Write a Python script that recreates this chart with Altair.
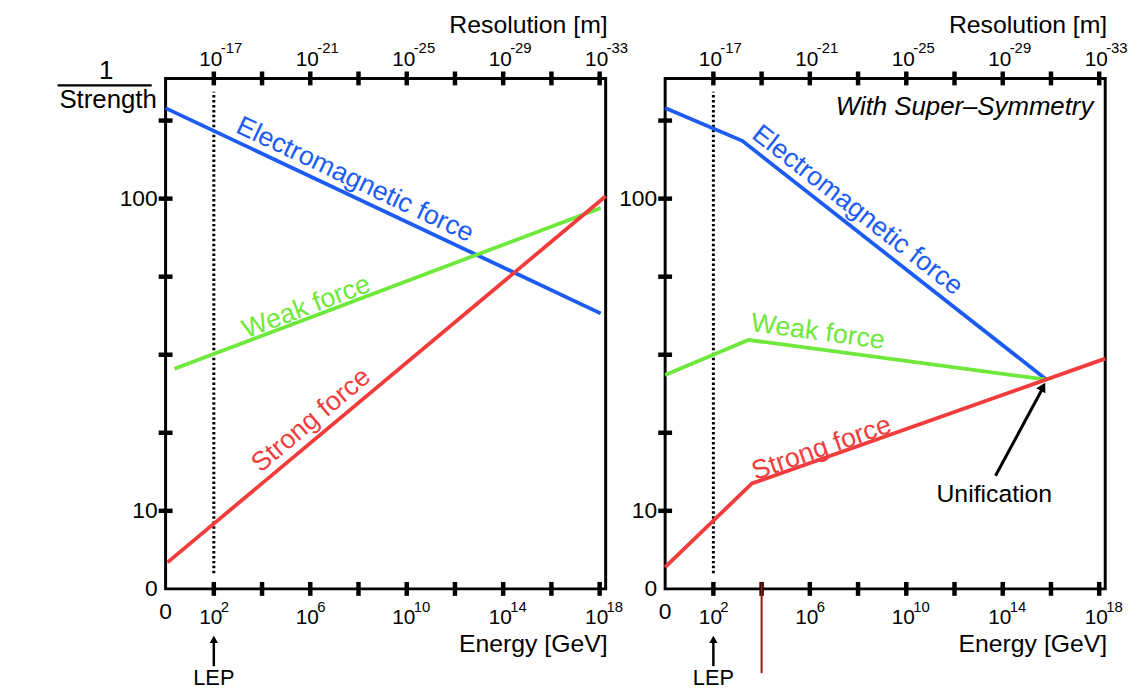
import altair as alt
import pandas as pd

# ---------------- data ----------------
# x: log10(Energy / GeV), y: schematic "1/Strength" axis units (one unit per tick)
energy_tick_pos = [2, 4, 6, 8, 10, 12, 14, 16, 18]
label_pos = [2, 6, 10, 14, 18]
energy_exps = ["2", "6", "10", "14", "18"]
resolution_exps = ["-17", "-21", "-25", "-29", "-33"]
strength_tick_pos = [1, 2, 3, 4, 5, 6]
strength_label_pos = [0, 1, 5]
strength_labels = ["0", "10", "100"]

forces = ["Electromagnetic force", "Weak force", "Strong force"]
colors = ["#1c5cf2", "#6ee83a", "#f23c3c"]

# Standard Model panel
sm_em_x = [0.0, 18.04]
sm_em_y = [6.16, 3.53]
sm_weak_x = [0.37, 18.04]
sm_weak_y = [2.82, 4.88]
sm_strong_x = [0.08, 18.25]
sm_strong_y = [0.34, 5.03]

# Super-Symmetry panel
susy_em_x = [0.0, 3.2, 15.82]
susy_em_y = [6.16, 5.74, 2.68]
susy_weak_x = [0.0, 3.45, 15.82]
susy_weak_y = [2.74, 3.19, 2.68]
susy_strong_x = [0.0, 3.6, 18.25]
susy_strong_y = [0.28, 1.35, 2.95]

# line label anchors (x, y, angle)
sm_label_x = [7.85, 5.84, 6.04]
sm_label_y = [5.24, 3.61, 2.16]
sm_label_angle = [25.3, 339.2, 320.0]
susy_label_x = [7.97, 6.33, 6.49]
susy_label_y = [4.85, 3.29, 1.80]
susy_label_angle = [37.9, 7.6, 340.5]

lep_x = 2
unif_x, unif_y = 15.82, 2.68
unif_text_x, unif_text_y = 13.65, 1.22
marker_x = 4

W, H = 444, 515
XS = alt.Scale(domain=[0, 18.25], nice=False, zero=False)
YS = alt.Scale(domain=[0, 6.54], nice=False, zero=False)
FONT = "Liberation Sans"


def lines_df(xs_list, ys_list):
    rows = []
    for f, xs, ys in zip(forces, xs_list, ys_list):
        for i, (x, y) in enumerate(zip(xs, ys)):
            rows.append({"force": f, "x": x, "y": y, "i": i})
    return pd.DataFrame(rows)


def panel(line_data, lab_x, lab_y, lab_ang, susy):
    X = lambda f="x": alt.X(f, type="quantitative", scale=XS, axis=None)
    Y = lambda f="y": alt.Y(f, type="quantitative", scale=YS, axis=None)
    cscale = alt.Scale(domain=forces, range=colors)

    lines = alt.Chart(line_data).mark_line(strokeWidth=3.8).encode(
        x=X(), y=Y(), order="i:Q",
        color=alt.Color("force:N", scale=cscale, legend=None),
    )
    lab_df = pd.DataFrame({"force": forces, "x": lab_x, "y": lab_y, "a": lab_ang})
    labels = []
    for _, r in lab_df.iterrows():
        labels.append(
            alt.Chart(pd.DataFrame([r])).mark_text(
                font=FONT, fontSize=27, angle=float(r["a"]), align="center", baseline="middle"
            ).encode(x=X(), y=Y(), text="force:N",
                     color=alt.Color("force:N", scale=cscale, legend=None))
        )

    lep = alt.Chart(pd.DataFrame({"x": [lep_x], "y": [0.2], "y2": [6.37]})).mark_rule(
        strokeDash=[2.5, 2.5], strokeWidth=3, color="black"
    ).encode(x=X(), y=Y(), y2="y2:Q")

    tdf = pd.DataFrame({"x": energy_tick_pos})
    tb = alt.Chart(tdf).mark_rule(strokeWidth=4.5, color="black").encode(
        x=X(), y=alt.value(H - 7), y2=alt.value(H + 7))
    tt = alt.Chart(tdf).mark_rule(strokeWidth=4.5, color="black").encode(
        x=X(), y=alt.value(-7), y2=alt.value(7))
    tl = alt.Chart(pd.DataFrame({"y": strength_tick_pos})).mark_rule(
        strokeWidth=4.5, color="black").encode(
        y=Y(), x=alt.value(-7), x2=alt.value(7))

    ldf = pd.DataFrame({"x": label_pos, "e": energy_exps, "r": resolution_exps, "b": ["10"] * 5})
    bot_base = alt.Chart(ldf).mark_text(font=FONT, fontSize=21, align="center", baseline="middle", dx=-3).encode(
        x=X(), y=alt.value(H + 29), text="b:N")
    bot_exp = alt.Chart(ldf).mark_text(font=FONT, fontSize=15, align="left", baseline="middle", dx=7).encode(
        x=X(), y=alt.value(H + 18), text="e:N")
    top_base = alt.Chart(ldf).mark_text(font=FONT, fontSize=21, align="center", baseline="middle", dx=-3).encode(
        x=X(), y=alt.value(-19), text="b:N")
    top_exp = alt.Chart(ldf).mark_text(font=FONT, fontSize=15, align="left", baseline="middle", dx=7).encode(
        x=X(), y=alt.value(-31), text="r:N")
    zero_x = alt.Chart(pd.DataFrame({"x": [0], "t": ["0"]})).mark_text(
        font=FONT, fontSize=23, align="center", baseline="middle").encode(
        x=X(), y=alt.value(H + 23), text="t:N")
    ylab = alt.Chart(pd.DataFrame({"y": strength_label_pos, "t": strength_labels})).mark_text(
        font=FONT, fontSize=23, align="right", baseline="middle").encode(
        y=Y(), x=alt.value(-8), text="t:N")

    res_title = alt.Chart(pd.DataFrame({"t": ["Resolution [m]"]})).mark_text(
        font=FONT, fontSize=25, align="right", baseline="middle").encode(
        x=alt.value(W + 2), y=alt.value(-54), text="t:N")
    en_title = alt.Chart(pd.DataFrame({"t": ["Energy [GeV]"]})).mark_text(
        font=FONT, fontSize=25, align="right", baseline="middle").encode(
        x=alt.value(W + 2), y=alt.value(H + 56), text="t:N")

    lep_arrow = alt.Chart(pd.DataFrame({"x": [lep_x]})).mark_rule(strokeWidth=2.5, color="black").encode(
        x=X(), y=alt.value(H + 50), y2=alt.value(H + 78))
    lep_head = alt.Chart(pd.DataFrame({"x": [lep_x]})).mark_point(
        shape="triangle-up", filled=True, size=70, color="black", opacity=1).encode(
        x=X(), y=alt.value(H + 51))
    lep_text = alt.Chart(pd.DataFrame({"x": [lep_x], "t": ["LEP"]})).mark_text(
        font=FONT, fontSize=22, align="center", baseline="middle").encode(
        x=X(), y=alt.value(H + 90), text="t:N")

    layers = [lep, lines] + labels + [tb, tt, tl, bot_base, bot_exp, top_base, top_exp,
                                      zero_x, ylab, res_title, en_title, lep_arrow, lep_head, lep_text]

    if not susy:
        one = alt.Chart(pd.DataFrame({"t": ["1"]})).mark_text(
            font=FONT, fontSize=26, align="center", baseline="middle").encode(
            x=alt.value(-60), y=alt.value(-7), text="t:N")
        bar = alt.Chart(pd.DataFrame({"t": ["1"]})).mark_rule(strokeWidth=2.5, color="black").encode(
            x=alt.value(-109), x2=alt.value(-14), y=alt.value(7))
        stren = alt.Chart(pd.DataFrame({"t": ["Strength"]})).mark_text(
            font=FONT, fontSize=26, align="center", baseline="middle").encode(
            x=alt.value(-58), y=alt.value(22), text="t:N")
        layers += [one, bar, stren]
    else:
        ss = alt.Chart(pd.DataFrame({"t": ["With Super\u2013Symmetry"]})).mark_text(
            font=FONT, fontSize=26, fontStyle="italic", align="right", baseline="middle").encode(
            x=alt.value(432), y=alt.value(29), text="t:N")
        udf = pd.DataFrame({"x": [unif_text_x + 0.05], "y": [unif_text_y + 0.23],
                            "x2": [unif_x - 0.18], "y2": [unif_y - 0.12]})
        uarrow = alt.Chart(udf).mark_rule(strokeWidth=3, color="black").encode(
            x=X(), y=Y(), x2="x2:Q", y2="y2:Q")
        uhead = alt.Chart(pd.DataFrame({"x": [unif_x - 0.15], "y": [unif_y - 0.09]})).mark_point(
            shape="triangle-up", filled=True, size=110, color="black", opacity=1, angle=29).encode(
            x=X(), y=Y())
        utext = alt.Chart(pd.DataFrame({"x": [unif_text_x], "y": [unif_text_y], "t": ["Unification"]})).mark_text(
            font=FONT, fontSize=25, align="center", baseline="middle").encode(
            x=X(), y=Y(), text="t:N")
        marker = alt.Chart(pd.DataFrame({"x": [marker_x], "y": [0.08]})).mark_rule(
            strokeWidth=2, color="#a01010").encode(x=X(), y=Y(), y2=alt.value(H + 85))
        layers += [ss, uarrow, uhead, utext, marker]

    return alt.layer(*layers).properties(width=W, height=H)


left = panel(lines_df([sm_em_x, sm_weak_x, sm_strong_x], [sm_em_y, sm_weak_y, sm_strong_y]),
             sm_label_x, sm_label_y, sm_label_angle, susy=False)
right = panel(lines_df([susy_em_x, susy_weak_x, susy_strong_x], [susy_em_y, susy_weak_y, susy_strong_y]),
              susy_label_x, susy_label_y, susy_label_angle, susy=True)

chart = alt.hconcat(left, right, spacing=60, bounds="flush").properties(
    padding={"left": 47, "top": 0, "right": 0, "bottom": 0},
    background="white",
).configure_view(stroke="black", strokeWidth=3).resolve_scale(color="shared")

chart.save("out.html", embed_options={"renderer": "svg", "actions": False})
